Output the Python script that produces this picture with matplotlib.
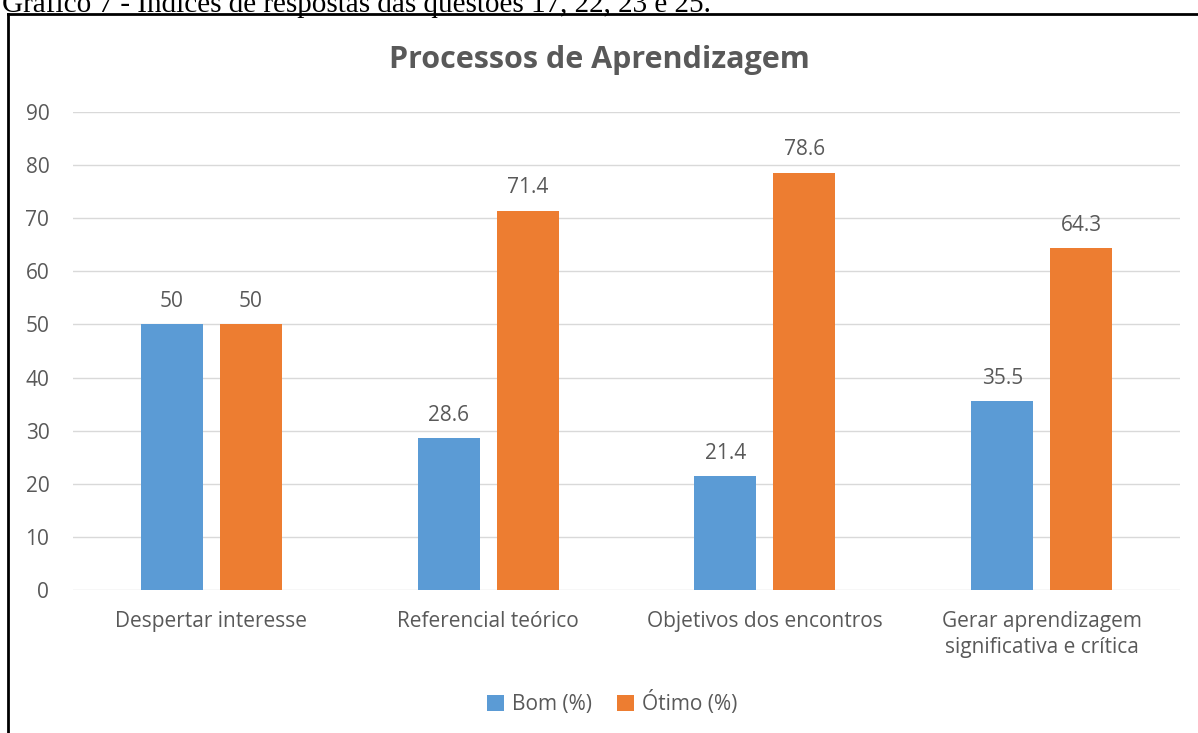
import matplotlib
matplotlib.use("Agg")
import matplotlib.pyplot as plt
from matplotlib.lines import Line2D
import numpy as np

categories = ["Despertar interesse", "Referencial teórico", "Objetivos dos encontros",
              "Gerar aprendizagem\nsignificativa e crítica"]
bom = [50, 28.6, 21.4, 35.5]
otimo = [50, 71.4, 78.6, 64.3]
bom_labels = ["50", "28.6", "21.4", "35.5"]
otimo_labels = ["50", "71.4", "78.6", "64.3"]
yticks = [0, 10, 20, 30, 40, 50, 60, 70, 80, 90]

blue = "#5B9BD5"
orange = "#ED7D31"
gray = "#595959"

plt.rcParams['font.family'] = ['Open Sans', 'DejaVu Sans']

fig = plt.figure(figsize=(11.98, 7.33), dpi=100)
ax = fig.add_axes([0.0609, 0.1951, 0.9241, 0.6521])

x = np.arange(len(categories))
w = 0.224
off = 0.1425
b1 = ax.bar(x - off, bom, width=w, color=blue, zorder=3)
b2 = ax.bar(x + off, otimo, width=w, color=orange, zorder=3)

for bars, labs in [(b1, bom_labels), (b2, otimo_labels)]:
    for bar, lab in zip(bars, labs):
        ax.annotate(lab, (bar.get_x() + bar.get_width() / 2, bar.get_height()),
                    xytext=(0, 9), textcoords="offset points", ha="center", va="bottom",
                    fontsize=15, color=gray)

ax.set_xlim(-0.5, 3.5)
ax.set_ylim(0, 90)
ax.set_yticks(yticks)
ax.set_xticks(x)
ax.set_xticklabels(categories, fontsize=15, color=gray, linespacing=1.35)
ax.tick_params(axis="y", labelsize=15, labelcolor=gray, length=0, pad=17)
ax.tick_params(axis="x", length=0, pad=15)
ax.grid(axis="y", color="#D9D9D9", linewidth=1, zorder=0)
for s in ax.spines.values():
    s.set_visible(False)

fig.text(0.5, 0.918, "Processos de Aprendizagem", ha="center", va="center",
         fontsize=22, fontweight="bold", color=gray)

fig.legend([b1, b2], ["Bom (%)", "Ótimo (%)"], loc="center", bbox_to_anchor=(0.511, 0.041),
           ncol=2, frameon=False, fontsize=15, labelcolor=gray, handlelength=0.8,
           handleheight=0.8, handletextpad=0.4, columnspacing=1.2)

# caption and frame
fig.text(0.002, 1 - 12 / 733, "Gráfico 7 - Índices de respostas das questões 17, 22, 23 e 25.",
         ha="left", va="baseline", fontsize=21, family="Liberation Serif", color="black")
fig.add_artist(Line2D([8 / 1198, 1], [1 - 14 / 733, 1 - 14 / 733], color="black", linewidth=2,
                      transform=fig.transFigure))
fig.add_artist(Line2D([8 / 1198, 8 / 1198], [0, 1 - 14 / 733], color="black", linewidth=2,
                      transform=fig.transFigure))

fig.savefig("out.png", dpi=100)
